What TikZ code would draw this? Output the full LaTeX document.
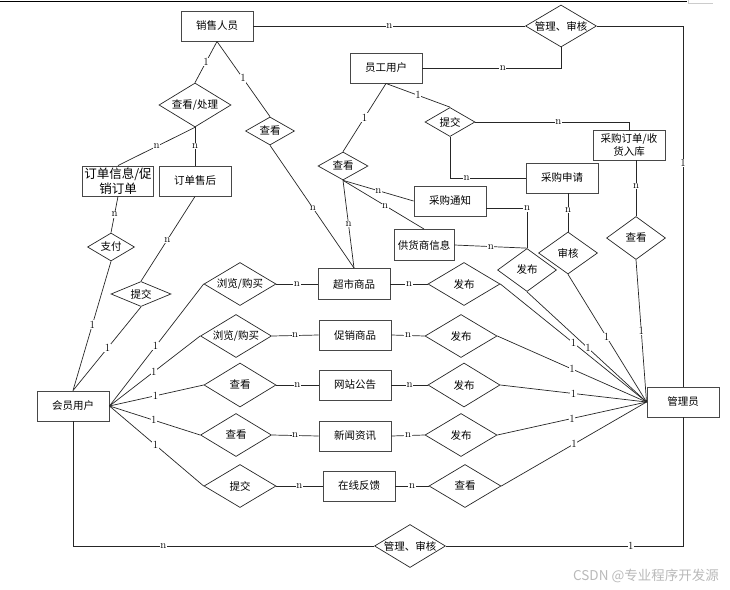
\documentclass[tikz,border=0pt]{standalone}
\usepackage{fontspec}
\newfontfamily\cjk{Noto Sans CJK SC}
\usetikzlibrary{shapes.geometric,calc}
\begin{document}
\begin{tikzpicture}[x=1pt,y=-1pt,
  box/.style={draw=black!72,line width=0.95pt,minimum width=72pt,minimum height=30pt,inner sep=0pt,align=center,font=\cjk\fontsize{10.5}{13}\selectfont},
  dia/.style={draw=black!85,line width=0.7pt,diamond,inner sep=0pt},
  dtxt/.style={font=\cjk\fontsize{10.5}{12}\selectfont,inner sep=0pt},
  ln/.style={line width=0.7pt,draw=black!85},
  lab/.style={fill=white,inner sep=0.6pt,font=\fontsize{11}{11}\selectfont}]
\useasboundingbox (0,0) rectangle (730,589);
\draw[line width=0.8pt] (0,1.5) -- (687,1.5);
\draw[gray!40,line width=0.5pt] (688,0) -- (688,3) -- (713,3);
% nodes
\node[box] (xs) at (217,26) {销售人员};
\node[dia,minimum width=71pt,minimum height=42pt,label={[dtxt]center:管理、审核}] (gt) at (561,26) {};
\node[box] (yg) at (386,68) {员工用户};
\node[dia,minimum width=50pt,minimum height=29pt,label={[dtxt]center:提交}] (tju) at (450,122) {};
\node[box] (cgdd) at (629,145) {采购订单/收\\货入库};
\node[box] (cgsq) at (562,178) {采购申请};
\node[dia,minimum width=59pt,minimum height=42pt,label={[dtxt]center:审核}] (sh) at (568,253) {};
\node[dia,minimum width=59pt,minimum height=43pt,label={[dtxt]center:查看}] (ckr) at (636,238) {};
\node[box] (gly) at (683,402) {管理员};
\node[dia,minimum width=71pt,minimum height=43pt,label={[dtxt]center:管理、审核}] (gb) at (410,546) {};
\node[box] (hy) at (73,406) {会员用户};
\node[dia,minimum width=72pt,minimum height=44pt,label={[dtxt]center:查看/处理}] (ckcl) at (195,105) {};
\node[dia,minimum width=49pt,minimum height=28pt,label={[dtxt]center:查看}] (ckml) at (270,131) {};
\node[box,minimum width=71pt,font=\cjk\fontsize{12.5}{15}\selectfont] (ddxx) at (118,181) {订单信息/促\\销订单};
\node[box] (ddsh) at (195,181) {订单售后};
\node[dia,minimum width=47pt,minimum height=28pt,label={[dtxt]center:支付}] (zf) at (111,247) {};
\node[dia,minimum width=60pt,minimum height=25pt,label={[dtxt]center:提交}] (tjl) at (141,294) {};
\node[dia,minimum width=50pt,minimum height=28pt,label={[dtxt]center:查看}] (ckc) at (343,166) {};
\node[box] (cgtz) at (450,201) {采购通知};
\node[box,minimum width=60pt,minimum height=31pt] (ghs) at (424,245) {供货商信息};
\node[dia,minimum width=59pt,minimum height=43pt,label={[dtxt]center:发布}] (fbu) at (527,270) {};
% rows
\node[dia,minimum width=72pt,minimum height=43pt,label={[dtxt]center:浏览/购买}] (a1) at (240,284) {};
\node[box,minimum height=31pt] (b1) at (354,284) {超市商品};
\node[dia,minimum width=72pt,minimum height=43pt,label={[dtxt]center:发布}] (c1) at (464,284) {};
\node[dia,minimum width=71pt,minimum height=43pt,label={[dtxt]center:浏览/购买}] (a2) at (236,336) {};
\node[box] (b2) at (355,335) {促销商品};
\node[dia,minimum width=72pt,minimum height=43pt,label={[dtxt]center:发布}] (c2) at (461,336) {};
\node[dia,minimum width=72pt,minimum height=44pt,label={[dtxt]center:查看}] (a3) at (240,385) {};
\node[box] (b3) at (355,385) {网站公告};
\node[dia,minimum width=72pt,minimum height=44pt,label={[dtxt]center:发布}] (c3) at (464,385) {};
\node[dia,minimum width=71pt,minimum height=43pt,label={[dtxt]center:查看}] (a4) at (236,435) {};
\node[box] (b4) at (355,436) {新闻资讯};
\node[dia,minimum width=72pt,minimum height=43pt,label={[dtxt]center:发布}] (c4) at (461,435) {};
\node[dia,minimum width=72pt,minimum height=43pt,label={[dtxt]center:提交}] (a5) at (240,486) {};
\node[box] (b5) at (359,486) {在线反馈};
\node[dia,minimum width=72pt,minimum height=43pt,label={[dtxt]center:查看}] (c5) at (465,486) {};
\node[font=\cjk\fontsize{13.5}{14}\selectfont,text=gray!55,anchor=east,inner sep=0pt] (wm) at (719,576) {CSDN @专业程序开发源};
% connectors
\draw[ln] (xs.east) -- node[lab,pos=0.5]{n} (gt.west);
\draw[ln] (gt.east) -| node[lab,pos=0.69]{1} (gly.north);
\draw[ln] (yg.east) -| node[lab,pos=0.29]{n} (gt.south);
\draw[ln] (yg.south) -- node[lab,pos=0.5]{1} (tju.north);
\draw[ln] (tju.east) -| node[lab,pos=0.27]{n} (cgdd.north);
\draw[ln] (tju.south) |- node[lab,pos=0.61]{n} (cgsq.west);
\draw[ln] (sh.north |- cgsq.south) -- node[lab,pos=0.44]{n} (sh.north);
\draw[ln] (ckr.north |- cgdd.south) -- node[lab,pos=0.46]{n} (ckr.north);
\draw[ln] (ckr.south) -- node[lab,pos=0.5]{1} (gly.west);
\draw[ln] (xs.south) -- node[lab,pos=0.5]{1} (ckcl.north);
\draw[ln] (xs.south) -- node[lab,pos=0.49]{1} (ckml.north);
\draw[ln] (ckcl.south) -- node[lab,pos=0.5]{n} (ddxx.north);
\draw[ln] (ckcl.south) -- node[lab,pos=0.5]{n} (ddsh.north);
\draw[ln] (ddxx.south) -- node[lab,pos=0.5]{n} (zf.north);
\draw[ln] (zf.south) -- node[lab,pos=0.49]{1} (hy.north);
\draw[ln] (ddsh.south) -- node[lab,pos=0.51]{n} (tjl.north);
\draw[ln] (tjl.south) -- node[lab,pos=0.49]{1} (hy.north);
\draw[ln] (ckml.south) -- node[lab,pos=0.51]{n} (b1.north);
\draw[ln] (yg.south) -- node[lab,pos=0.5]{1} (ckc.north);
\draw[ln] (ckc.south) -- node[lab,pos=0.5]{n} (b1.north);
\draw[ln] (ckc.south) -- node[lab,pos=0.5]{n} (cgtz.west);
\draw[ln] (ckc.south) -- node[lab,pos=0.52]{n} (ghs.north);
\draw[ln] ($(cgtz.south east)+(0,-8)$) -| node[lab,pos=0.5]{n} (fbu.north);
\draw[ln] (ghs.east) -- node[lab,pos=0.5]{n} (fbu.north);
\draw[ln] (fbu.south) -- node[lab,pos=0.51]{1} (gly.west);
\draw[ln] (sh.south) -- node[lab,pos=0.49]{1} (gly.west);
\foreach \r in {1,...,5}{
  \draw[ln] (hy.east) -- node[lab,pos=0.49]{1} (a\r.west);
  \draw[ln] (a\r.east) -- node[lab,pos=0.5]{n} (b\r.west);
  \draw[ln] (b\r.east) -- node[lab,pos=0.5]{n} (c\r.west);
  \draw[ln] (c\r.east) -- node[lab,pos=0.5]{1} (gly.west);
}
\draw[ln] (gly.south) |- node[lab,pos=0.61]{1} (gb.east);
\draw[ln] (gb.west) -| node[lab,pos=0.35]{n} (hy.south);
\end{tikzpicture}
\end{document}
